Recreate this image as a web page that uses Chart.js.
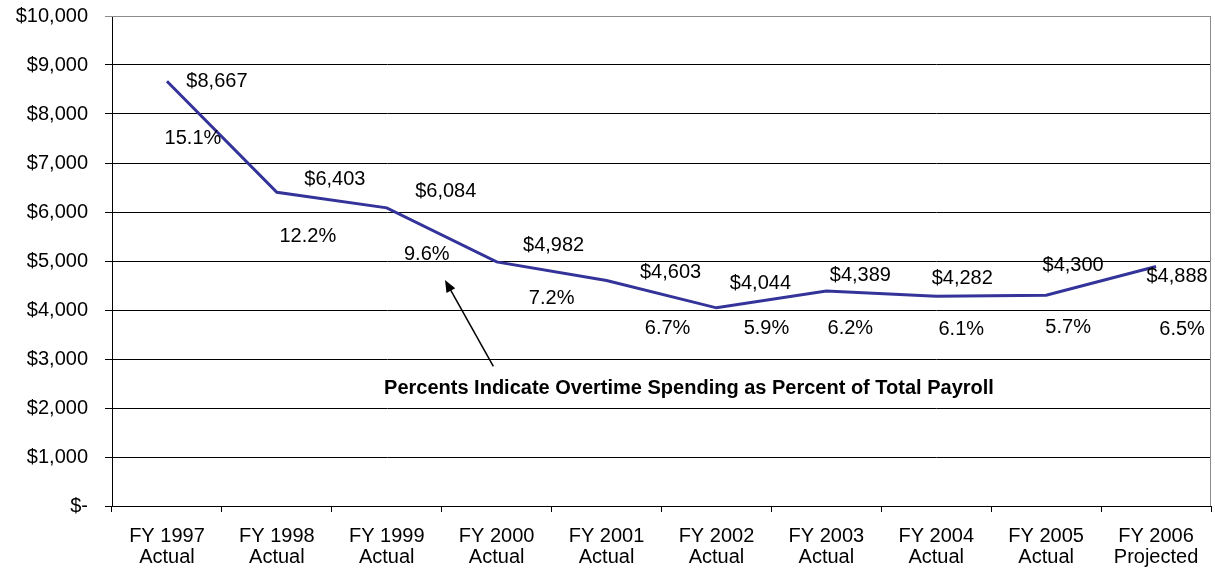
<!DOCTYPE html>
<html>
<head>
<meta charset="utf-8">
<script src="https://cdn.jsdelivr.net/npm/chart.js@4.4.0/dist/chart.umd.min.js"></script>
<style>
	html, body { margin: 0; padding: 0; background: #fff; }
	#wrap { width: 1215px; height: 574px; }
</style>
</head>
<body>
<div id="wrap"><canvas id="overtimeChart"></canvas></div>
<script>
// Datos: gasto en horas extra (miles de $) y porcentaje de la nomina total
const fiscalYears = [
	["FY 1997", "Actual"],
	["FY 1998", "Actual"],
	["FY 1999", "Actual"],
	["FY 2000", "Actual"],
	["FY 2001", "Actual"],
	["FY 2002", "Actual"],
	["FY 2003", "Actual"],
	["FY 2004", "Actual"],
	["FY 2005", "Actual"],
	["FY 2006", "Projected"],
];
const overtimeSpending = [8667, 6403, 6084, 4982, 4603, 4044, 4389, 4282, 4300, 4888];
const percentOfPayroll = [15.1, 12.2, 9.6, 7.2, 6.7, 5.9, 6.2, 6.1, 5.7, 6.5];
const noteText = "Percents Indicate Overtime Spending as Percent of Total Payroll";

// Desplazamiento (px) de cada etiqueta respecto a su punto
const valueLabelOffsets = [[50, 0], [58, -13], [59, -16], [57, -16], [64, -8], [44, -24], [34, -15], [26, -18], [27, -30], [21, 10]];
const pctLabelOffsets = [[26, 57], [31, 44], [40, 47], [55, 37], [61, 48], [50, 21], [24, 38], [25, 33], [22, 32], [26, 63]];
// Nota y flecha en coordenadas de los ejes (indice de categoria, valor)
const noteAnchor = {index: 4.75, value: 2390};
const arrowFrom = {index: 2.97, value: 2850};
const arrowTo = {index: 2.53, value: 4610};

const baseFont = "'Liberation Sans', Arial, sans-serif";

const formatMoney = (v) => (v === 0 ? "$-" : "$" + v.toLocaleString("en-US"));

const plotBorder = {
	id: "plotBorder",
	beforeDatasetsDraw(chart) {
		const {ctx, chartArea} = chart;
		ctx.save();
		ctx.strokeStyle = "#8c8c8c";
		ctx.lineWidth = 1;
		ctx.beginPath();
		ctx.moveTo(chartArea.left, chartArea.top + 0.5);
		ctx.lineTo(chartArea.right - 0.5, chartArea.top + 0.5);
		ctx.lineTo(chartArea.right - 0.5, chartArea.bottom);
		ctx.stroke();
		ctx.restore();
	},
};

const overtimeLabels = {
	id: "overtimeLabels",
	afterDatasetsDraw(chart) {
		const ctx = chart.ctx;
		const xs = chart.scales.x;
		const ys = chart.scales.y;
		const meta = chart.getDatasetMeta(0);
		ctx.save();
		ctx.fillStyle = "#000";
		ctx.textAlign = "center";
		ctx.textBaseline = "middle";
		ctx.font = "20px " + baseFont;
		meta.data.forEach((pt, i) => {
			const v = valueLabelOffsets[i];
			const p = pctLabelOffsets[i];
			ctx.fillText(formatMoney(overtimeSpending[i]), pt.x + v[0], pt.y + v[1]);
			ctx.fillText(percentOfPayroll[i].toFixed(1) + "%", pt.x + p[0], pt.y + p[1]);
		});

		// Nota explicativa
		ctx.font = "bold 20px " + baseFont;
		ctx.fillText(noteText, xs.getPixelForValue(noteAnchor.index), ys.getPixelForValue(noteAnchor.value));

		// Flecha hacia las etiquetas de porcentaje
		const x1 = xs.getPixelForValue(arrowFrom.index);
		const y1 = ys.getPixelForValue(arrowFrom.value);
		const x2 = xs.getPixelForValue(arrowTo.index);
		const y2 = ys.getPixelForValue(arrowTo.value);
		const ang = Math.atan2(y2 - y1, x2 - x1);
		const headLen = 12;
		const headW = 5;
		ctx.strokeStyle = "#000";
		ctx.lineWidth = 1.5;
		ctx.beginPath();
		ctx.moveTo(x1, y1);
		ctx.lineTo(x2 - Math.cos(ang) * headLen * 0.8, y2 - Math.sin(ang) * headLen * 0.8);
		ctx.stroke();
		ctx.beginPath();
		ctx.moveTo(x2, y2);
		ctx.lineTo(x2 - Math.cos(ang) * headLen - Math.sin(ang) * headW, y2 - Math.sin(ang) * headLen + Math.cos(ang) * headW);
		ctx.lineTo(x2 - Math.cos(ang) * headLen + Math.sin(ang) * headW, y2 - Math.sin(ang) * headLen - Math.cos(ang) * headW);
		ctx.closePath();
		ctx.fill();
		ctx.restore();
	},
};

const canvas = document.getElementById("overtimeChart").getContext("2d");
const data = {
	labels: fiscalYears,
	datasets: [
		{
			label: "Overtime",
			data: overtimeSpending,
			borderColor: "#333399",
			borderWidth: 3,
			pointRadius: 0,
			tension: 0,
			fill: false,
		},
	],
};
const config = {
	type: "line",
	data: data,
	options: {
		responsive: true,
		maintainAspectRatio: false,
		animation: false,
		layout: {padding: {top: 16, right: 4, left: 0, bottom: 0}},
		scales: {
			x: {
				offset: true,
				grid: {
					offset: true,
					drawOnChartArea: false,
					drawTicks: true,
					tickLength: 6,
					color: "#000",
				},
				border: {color: "#000", width: 1},
				ticks: {
					color: "#000",
					padding: 14,
					maxRotation: 0,
					autoSkip: false,
					font: {family: baseFont, size: 20, lineHeight: 1.05},
				},
				afterFit: (scale) => {
					scale.height = 68;
				},
			},
			y: {
				min: 0,
				max: 10000,
				grid: {
					color: (c) => (c.tick && c.tick.value === 10000 ? "#8c8c8c" : "#000"),
					tickLength: 7,
				},
				border: {color: "#000", width: 1},
				ticks: {
					stepSize: 1000,
					color: "#000",
					padding: 17,
					font: {family: baseFont, size: 20},
					callback: (v) => formatMoney(v),
				},
				afterFit: (scale) => {
					// ancho fijo del eje y sin margen extra arriba
					scale.width = 112;
					scale.paddingTop = 0;
					scale.paddingBottom = 0;
				},
			},
		},
		plugins: {
			legend: {display: false},
			tooltip: {enabled: false},
		},
	},
	plugins: [plotBorder, overtimeLabels],
};
new Chart(canvas, config);
</script>
</body>
</html>
